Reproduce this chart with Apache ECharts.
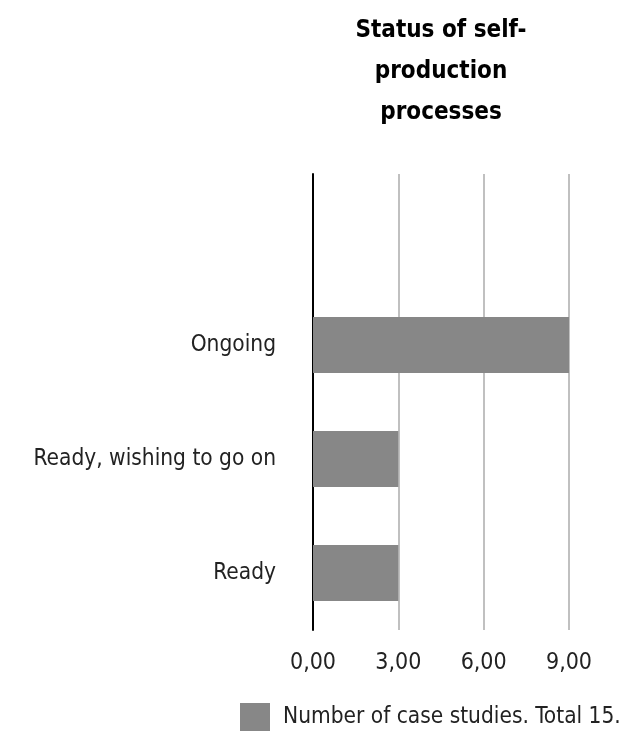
<!DOCTYPE html>
<html>
<head>
<meta charset="utf-8">
<script src="https://cdn.jsdelivr.net/npm/echarts@6/dist/echarts.min.js"></script>
<style>
	html, body { margin: 0; padding: 0; background: #fff; }
	#chart { width: 638px; height: 731px; }
</style>
</head>
<body>
<div id="chart"></div>
<script>
// Categories bottom to top; the top slot is left empty as in the original
const categories = [ 'Ready', 'Ready, wishing to go on', 'Ongoing', '' ];
const caseCounts = [ 3, 3, 9, null ];
const seriesName = 'Number of case studies. Total 15.';
const titleText = 'Status of self-\nproduction\nprocesses';

const fontFamily = '"DejaVu Sans Condensed", "DejaVu Sans", sans-serif';

const chart = echarts.init( document.getElementById( 'chart' ) );

chart.setOption( {
	animation: false,
	textStyle: { fontFamily: fontFamily },
	graphic: [ {
		type: 'text',
		x: 441,
		y: 10,
		style: {
			text: titleText,
			fontFamily: fontFamily,
			fontWeight: 'bold',
			fontSize: 24,
			lineHeight: 41,
			fill: '#000',
			align: 'center',
			verticalAlign: 'top'
		}
	} ],
	legend: {
		data: [ seriesName ],
		left: 235,
		top: 698,
		itemWidth: 30,
		itemHeight: 28,
		itemGap: 10,
		icon: 'rect',
		textStyle: { fontSize: 22.5, color: '#222', fontFamily: fontFamily, padding: [ 0, 0, 0, 8 ] }
	},
	grid: { left: 313, right: 69, top: 174, bottom: 101, containLabel: false },
	xAxis: {
		type: 'value',
		min: 0,
		max: 9,
		interval: 3,
		axisLine: { show: false },
		axisTick: { show: false },
		splitLine: { lineStyle: { color: '#c0c0c0', width: 2 } },
		axisLabel: {
			fontSize: 23,
			color: '#222',
			margin: 22,
			formatter: ( v ) => v.toFixed( 2 ).replace( '.', ',' )
		}
	},
	yAxis: {
		type: 'category',
		data: categories,
		axisLine: { show: true, lineStyle: { color: '#000', width: 2 } },
		axisTick: { show: false },
		axisLabel: { fontSize: 22.5, color: '#222', margin: 37 }
	},
	series: [ {
		name: seriesName,
		type: 'bar',
		data: caseCounts,
		barWidth: 56,
		itemStyle: { color: '#878787' }
	} ]
} );
</script>
</body>
</html>
